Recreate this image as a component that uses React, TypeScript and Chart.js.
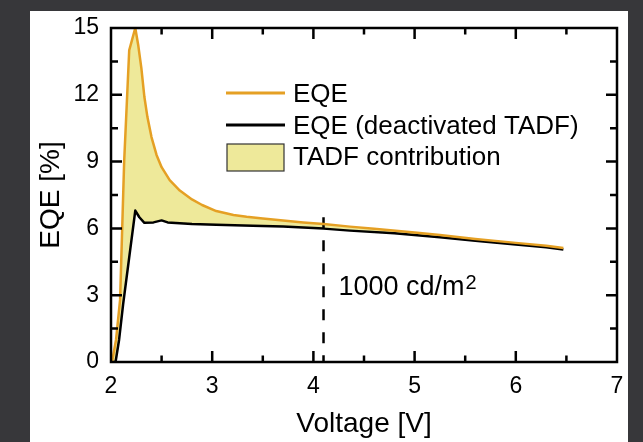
import React, { useEffect, useRef } from 'react';
import { Chart, registerables } from 'chart.js';

Chart.register(...registerables);

// ---- data ----
const eqeVoltage = [2.01, 2.05, 2.09, 2.13, 2.18, 2.21, 2.24, 2.27, 2.30, 2.33, 2.36, 2.40, 2.45, 2.50, 2.58, 2.68, 2.80, 2.90, 3.04, 3.21, 3.34, 3.5, 3.7, 3.9, 4.1, 4.36, 4.6, 5.0, 5.25, 5.6, 6.0, 6.3, 6.47];
const eqeValues = [0, 1.0, 2.8, 9.0, 14.0, 14.5, 15.0, 14.2, 13.2, 11.9, 11.0, 10.1, 9.3, 8.75, 8.17, 7.7, 7.3, 7.05, 6.78, 6.6, 6.52, 6.44, 6.35, 6.27, 6.2, 6.08, 5.98, 5.82, 5.7, 5.52, 5.35, 5.22, 5.12];

const deacVoltage = [2.01, 2.045, 2.08, 2.12, 2.18, 2.24, 2.28, 2.33, 2.42, 2.5, 2.56, 2.8, 3.04, 3.4, 3.7, 4.1, 4.36, 4.8, 5.25, 5.6, 6.0, 6.3, 6.47];
const deacValues = [0, 0, 1.0, 2.6, 4.7, 6.8, 6.5, 6.25, 6.27, 6.36, 6.27, 6.2, 6.16, 6.12, 6.08, 5.99, 5.9, 5.78, 5.6, 5.45, 5.28, 5.15, 5.05];

const markerVoltage = [4.1, 4.1];
const markerValues = [6.5, 0];

const legendLabels = ['EQE', 'EQE (deactivated TADF)', 'TADF contribution'];
const annotationText = '1000 cd/m';
const annotationSup = '2';
const annotationVoltage = 4.1;
const annotationEqe = 3;
const xTitle = 'Voltage [V]';
const yTitle = 'EQE [%]';
const xMin = 2, xMax = 7, xStep = 0.5, xLabelStep = 1;
const yMin = 0, yMax = 15, yStep = 1.5, yLabelStep = 3;

const ORANGE = '#E5A024';
const FILL = '#EEE99A';
const FONT = "'Liberation Sans', Arial, sans-serif";

const toPoints = (xs: number[], ys: number[]) => xs.map((x, i) => ({ x, y: ys[i] }));
const isMajor = (v: number, step: number) => Math.abs(v / step - Math.round(v / step)) < 1e-6;

const framePlugin = {
  id: 'frameTicks',
  afterDatasetsDraw(chart: any) {
    const { ctx, chartArea } = chart;
    const { left, right, top, bottom } = chartArea;
    const xs = chart.scales.x;
    const ys = chart.scales.y;
    ctx.save();
    ctx.strokeStyle = '#000';
    ctx.lineWidth = 2.5;
    ctx.lineCap = 'butt';
    ctx.beginPath();
    xs.ticks.forEach((t: any) => {
      const p = xs.getPixelForValue(t.value);
      if (p <= left + 1 || p >= right - 1) return;
      const len = isMajor(t.value, xLabelStep) ? 11 : 6.5;
      ctx.moveTo(p, bottom);
      ctx.lineTo(p, bottom - len);
      ctx.moveTo(p, top);
      ctx.lineTo(p, top + len);
    });
    ys.ticks.forEach((t: any) => {
      const p = ys.getPixelForValue(t.value);
      if (p <= top + 1 || p >= bottom - 1) return;
      const len = isMajor(t.value, yLabelStep) ? 11 : 7;
      ctx.moveTo(left, p);
      ctx.lineTo(left + len, p);
      ctx.moveTo(right, p);
      ctx.lineTo(right - len, p);
    });
    ctx.stroke();
    ctx.strokeRect(left, top, right - left, bottom - top);
    ctx.restore();
  },
};

const legendPlugin = {
  id: 'customLegend',
  afterDraw(chart: any) {
    const { ctx, chartArea } = chart;
    const x1 = chartArea.left + 115;
    const x2 = chartArea.left + 174;
    const tx = chartArea.left + 182;
    const rows = [chartArea.top + 66, chartArea.top + 98, chartArea.top + 129];
    ctx.save();
    ctx.lineWidth = 3;
    ctx.strokeStyle = ORANGE;
    ctx.beginPath();
    ctx.moveTo(x1, rows[0] - 1);
    ctx.lineTo(x2, rows[0] - 1);
    ctx.stroke();
    ctx.strokeStyle = '#000';
    ctx.beginPath();
    ctx.moveTo(x1, rows[1] - 1);
    ctx.lineTo(x2, rows[1] - 1);
    ctx.stroke();
    ctx.fillStyle = FILL;
    ctx.fillRect(x1 + 1, rows[2] - 13, x2 - x1 - 2, 27);
    ctx.lineWidth = 1.2;
    ctx.strokeStyle = '#333';
    ctx.strokeRect(x1 + 1, rows[2] - 13, x2 - x1 - 2, 27);
    ctx.fillStyle = '#000';
    ctx.font = `26px ${FONT}`;
    ctx.textBaseline = 'middle';
    ctx.textAlign = 'left';
    legendLabels.forEach((l, i) => ctx.fillText(l, tx, rows[i] + 1));

    // annotation
    const ax = chart.scales.x.getPixelForValue(annotationVoltage) + 15;
    const ay = chart.scales.y.getPixelForValue(annotationEqe);
    ctx.textBaseline = 'alphabetic';
    ctx.font = `27px ${FONT}`;
    ctx.fillText(annotationText, ax, ay);
    const w = ctx.measureText(annotationText).width;
    ctx.font = `20px ${FONT}`;
    ctx.fillText(annotationSup, ax + w + 1, ay - 6);
    ctx.restore();
  },
};

export default function App() {
  const ref = useRef<HTMLCanvasElement>(null);

  useEffect(() => {
    if (!ref.current) return;
    const chart = new Chart(ref.current, {
      type: 'line',
      data: {
        datasets: [
          {
            label: legendLabels[0],
            data: toPoints(eqeVoltage, eqeValues),
            borderColor: ORANGE,
            borderWidth: 2.5,
            backgroundColor: FILL,
            fill: 1,
            pointRadius: 0,
            tension: 0,
            borderJoinStyle: 'round',
          },
          {
            label: legendLabels[1],
            data: toPoints(deacVoltage, deacValues),
            borderColor: '#000',
            borderWidth: 2.5,
            fill: false,
            pointRadius: 0,
            tension: 0,
            borderJoinStyle: 'round',
          },
          {
            label: 'marker',
            data: toPoints(markerVoltage, markerValues),
            borderColor: '#000',
            borderWidth: 2.5,
            borderDash: [11, 12],
            fill: false,
            pointRadius: 0,
          },
        ],
      },
      options: {
        responsive: false,
        animation: false,
        devicePixelRatio: 1,
        layout: { padding: { left: 0, top: 28, right: 26, bottom: 0 } },
        font: { family: FONT },
        plugins: {
          legend: { display: false },
          tooltip: { enabled: false },
          filler: { drawTime: 'beforeDatasetsDraw' },
        },
        scales: {
          x: {
            type: 'linear',
            position: 'bottom',
            min: xMin,
            max: xMax,
            grid: { display: false, drawTicks: false },
            border: { display: false },
            ticks: {
              stepSize: xStep,
              autoSkip: false,
              maxRotation: 0,
              padding: 11,
              color: '#000',
              font: { size: 23, family: FONT },
              callback: (v: any) => (isMajor(Number(v), xLabelStep) ? String(Math.round(Number(v))) : ''),
            },
            title: {
              display: true,
              text: xTitle,
              color: '#000',
              font: { size: 28, family: FONT },
              padding: { top: 0, bottom: 1 },
            },
            afterFit: (s: any) => { s.height = 80; },
          },
          y: {
            type: 'linear',
            position: 'left',
            min: yMin,
            max: yMax,
            grid: { display: false, drawTicks: false },
            border: { display: false },
            ticks: {
              stepSize: yStep,
              autoSkip: false,
              padding: 12,
              color: '#000',
              font: { size: 23, family: FONT },
              callback: (v: any) => (isMajor(Number(v), yLabelStep) ? String(Math.round(Number(v))) : ''),
            },
            title: {
              display: true,
              text: yTitle,
              color: '#000',
              font: { size: 28, family: FONT },
              padding: { top: 34, bottom: 0 },
            },
            afterFit: (s: any) => { s.width = 111; },
          },
        },
      } as any,
      plugins: [framePlugin, legendPlugin],
    });
    return () => chart.destroy();
  }, []);

  return (
    <div style={{ position: 'fixed', left: 0, top: 0, width: 643, height: 442, background: '#37373a', overflow: 'hidden' }}>
      <div style={{ position: 'absolute', left: 30, top: 11, width: 598, height: 431, background: '#fff' }} />
      <canvas ref={ref} width={643} height={442} style={{ position: 'absolute', left: 0, top: 0, width: 643, height: 442 }} />
    </div>
  );
}
